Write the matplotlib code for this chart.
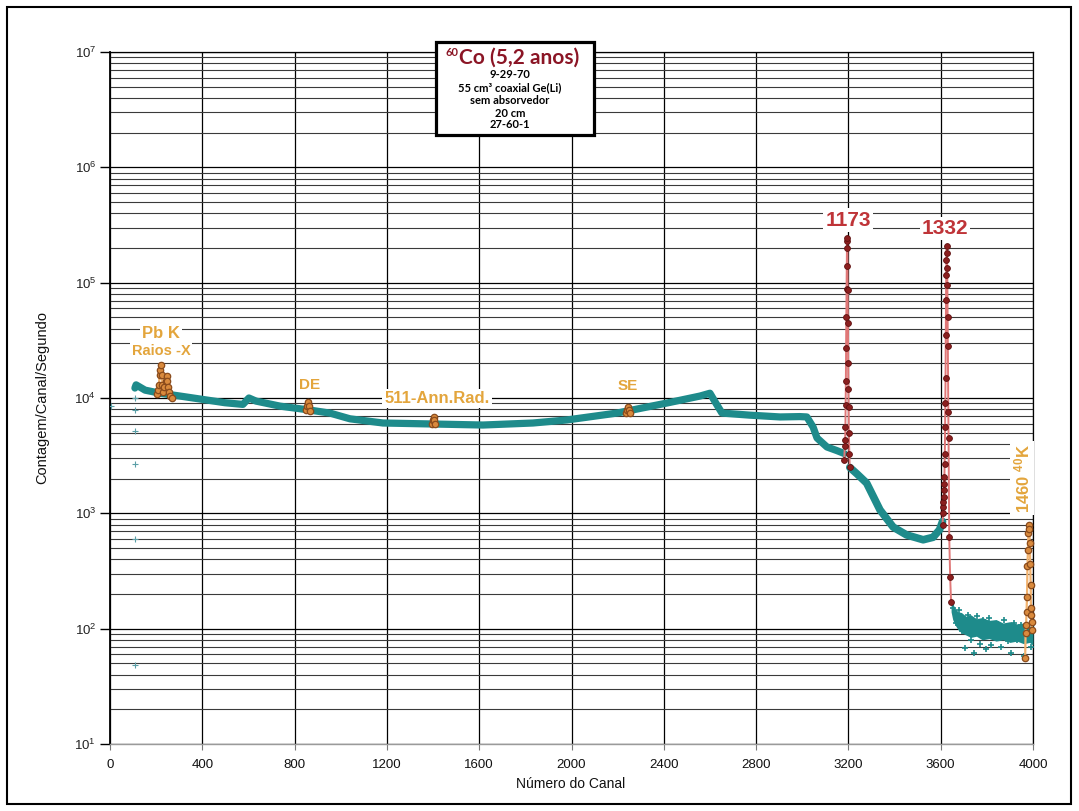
import matplotlib
matplotlib.use('Agg')
import matplotlib.pyplot as plt
from matplotlib.patches import Rectangle
from matplotlib.ticker import LogLocator, NullFormatter

plt.rcParams['font.family'] = ['Liberation Sans', 'DejaVu Sans']
plt.rcParams['mathtext.default'] = 'regular'

# ---------------- data ----------------
x_ticks = [0, 400, 800, 1200, 1600, 2000, 2400, 2800, 3200, 3600, 4000]
y_ticks = [1e1, 1e2, 1e3, 1e4, 1e5, 1e6, 1e7]
y_tick_labels = ['$10^{1}$', '$10^{2}$', '$10^{3}$', '$10^{4}$', '$10^{5}$', '$10^{6}$', '$10^{7}$']

# continuum (green) part 1: up to the 1173 peak
cont1_ch = [108, 113, 152, 217, 303, 390, 498, 576, 602, 633, 737, 858, 953, 1040,
            1183, 1400, 1616, 1833, 1980, 2197, 2414, 2557, 2600, 2626, 2652, 2773,
            2904, 2990, 3020, 3047, 3064, 3107, 3150, 3182]
cont1_val = [1.22e4, 1.30e4, 1.17e4, 1.10e4, 1.04e4, 9.8e3, 9.1e3, 8.8e3, 1.0e4, 9.4e3,
             8.5e3, 7.9e3, 7.4e3, 6.6e3, 6.07e3, 5.95e3, 5.83e3, 6.07e3, 6.45e3, 7.4e3,
             9.05e3, 1.04e4, 1.10e4, 9.0e3, 7.4e3, 7.1e3, 6.85e3, 6.9e3, 6.85e3, 5.6e3,
             4.5e3, 3.76e3, 3.5e3, 3.3e3]

# continuum part 2: between the two peaks
cont2_ch = [3206, 3237, 3279, 3337, 3394, 3452, 3524, 3567, 3595, 3608]
cont2_val = [2.5e3, 2.2e3, 1.83e3, 1.07e3, 760, 650, 590, 620, 720, 850]

# continuum part 3: noisy tail after 1332
tail_ch = [3645, 3652, 3662, 3675, 3690, 3710, 3730, 3755, 3780, 3810, 3840, 3870,
           3900, 3930, 3960, 3985, 4000]
tail_hi = [175, 165, 150, 140, 138, 128, 132, 122, 125, 118, 120, 112, 115, 110, 112, 105, 108]
tail_lo = [140, 120, 108, 98, 92, 88, 84, 86, 80, 82, 78, 80, 76, 78, 74, 76, 72]
tail_pts_ch = [3655, 3668, 3680, 3692, 3705, 3718, 3731, 3745, 3758, 3770, 3782, 3795,
               3808, 3820, 3834, 3848, 3862, 3876, 3890, 3905, 3918, 3932, 3946, 3960, 3975, 3990]
tail_pts_val = [150, 112, 145, 96, 68, 132, 80, 61, 128, 74, 118, 66, 124, 72, 84, 110,
                70, 118, 78, 62, 112, 80, 108, 58, 100, 70]

# isolated low channels
start_ch = [5, 108, 108, 108, 108, 108, 108]
start_val = [8.5e3, 1.0e4, 7.9e3, 5.2e3, 2.7e3, 6.0e2, 48]

# 1173 keV peak
p1173_ch = [3182, 3184, 3186, 3187, 3188, 3189, 3190, 3191, 3192, 3193, 3194, 3195,
            3196, 3197, 3198, 3199, 3200, 3201, 3202, 3204, 3206]
p1173_val = [2.9e3, 3.8e3, 4.3e3, 5.6e3, 8.7e3, 1.4e4, 2.7e4, 5.0e4, 8.9e4, 1.4e5,
             2.3e5, 2.45e5, 2.0e5, 8.6e4, 4.5e4, 2.0e4, 1.2e4, 8.3e3, 5.0e3, 3.3e3, 2.5e3]

# 1332 keV peak
p1332_ch = [3608, 3610, 3611, 3612, 3613, 3614, 3615, 3616, 3617, 3618, 3619, 3620,
            3621, 3622, 3623, 3624, 3625, 3626, 3627, 3628, 3629, 3630, 3631, 3633,
            3634, 3637, 3641, 3645]
p1332_val = [8.0e2, 1.0e3, 1.13e3, 1.26e3, 1.38e3, 1.6e3, 1.8e3, 2.06e3, 2.7e3, 3.3e3,
             5.6e3, 9.1e3, 1.5e4, 3.5e4, 7.1e4, 1.17e5, 1.58e5, 2.06e5, 1.8e5, 1.35e5,
             9.6e4, 5.0e4, 2.8e4, 7.6e3, 4.5e3, 6.2e2, 2.8e2, 1.7e2]

# small (orange) peaks
pbk_ch = [205, 209, 212, 215, 218, 221, 224, 227, 231, 236, 241, 245, 249, 253, 257, 262, 267]
pbk_val = [1.08e4, 1.17e4, 1.30e4, 1.58e4, 1.75e4, 1.93e4, 1.58e4, 1.30e4, 1.13e4,
           1.25e4, 1.40e4, 1.55e4, 1.40e4, 1.25e4, 1.13e4, 1.05e4, 1.0e4]
de_ch = [850, 854, 858, 862, 866]
de_val = [7.8e3, 8.6e3, 9.3e3, 8.5e3, 7.7e3]
ann_ch = [1394, 1398, 1402, 1406, 1410]
ann_val = [5.9e3, 6.4e3, 6.8e3, 6.4e3, 5.9e3]
se_ch = [2237, 2241, 2245, 2249, 2253]
se_val = [7.4e3, 7.9e3, 8.3e3, 7.9e3, 7.4e3]
k40_ch = [3966, 3968, 3970, 3972, 3974, 3976, 3978, 3980, 3982, 3984, 3986, 3988,
          3990, 3991, 3992, 3994, 3996]
k40_val = [56, 92, 108, 139, 188, 349, 481, 675, 793, 731, 553, 364, 239, 151, 131, 114, 97]

# ---------------- styles ----------------
TEAL = '#1e8b8b'
RED_LINE = '#e07878'
RED_MK = '#8b1f1f'
OR_LINE = '#f3b470'
OR_MK = '#d98a3d'
OR_EDGE = '#8a4b1c'
LABEL_OR = '#e3a53c'
LABEL_RED = '#bf3438'

W, H = 1079, 811
def fx(p):
    return p / W
def fy(p):
    return 1 - p / H

fig = plt.figure(figsize=(W / 100, H / 100), dpi=100)
ax = fig.add_axes([fx(110), fy(744), fx(1033) - fx(110), fy(52) - fy(744)])
ax.set_yscale('log')
ax.set_xlim(0, 4000)
ax.set_ylim(10, 1e7)

ax.set_xticks(x_ticks)
ax.set_xticklabels([str(v) for v in x_ticks])
ax.set_yticks(y_ticks)
ax.set_yticklabels(y_tick_labels)
ax.yaxis.set_minor_locator(LogLocator(base=10, subs=range(2, 10), numticks=30))
ax.yaxis.set_minor_formatter(NullFormatter())
ax.set_axisbelow(True)
ax.grid(which='major', axis='both', color='black', lw=0.9)
ax.grid(which='minor', axis='y', color='#3a3a3a', lw=0.8)

for s in ['top', 'right']:
    ax.spines[s].set_color('black')
    ax.spines[s].set_linewidth(0.9)
ax.spines['left'].set_linewidth(1.3)
ax.spines['bottom'].set_color('#9a9a9a')
ax.spines['bottom'].set_linewidth(1.0)

ax.tick_params(axis='y', which='minor', length=0)
ax.tick_params(axis='y', which='major', length=7, width=1, color='black',
               labelsize=9.5, pad=3, labelcolor='#222222')
ax.tick_params(axis='x', which='major', length=4, width=0.8, color='#777777',
               labelsize=9.5, pad=7, labelcolor='#111111')

# continuum
ax.plot(cont1_ch, cont1_val, color=TEAL, lw=5.2, solid_capstyle='round',
        solid_joinstyle='round', zorder=3)
ax.plot(cont2_ch, cont2_val, color=TEAL, lw=5.5, solid_capstyle='round',
        solid_joinstyle='round', zorder=3)
ax.fill_between(tail_ch, tail_lo, tail_hi, color=TEAL, lw=0, zorder=3)
ax.plot(tail_pts_ch, tail_pts_val, '+', color=TEAL, ms=5, mew=1.2, zorder=3)
ax.plot(start_ch, start_val, '+', color='#5a9ea6', ms=4, mew=0.8, zorder=3)

# big peaks
for ch, val in [(p1173_ch, p1173_val), (p1332_ch, p1332_val)]:
    ax.plot(ch, val, '-', color=RED_LINE, lw=1.4, zorder=4)
    ax.plot(ch, val, 'o', mfc=RED_MK, mec='#5e1010', ms=4.2, mew=0.6, zorder=5)

# small peaks
for ch, val in [(pbk_ch, pbk_val), (de_ch, de_val), (ann_ch, ann_val),
                (se_ch, se_val), (k40_ch, k40_val)]:
    ax.plot(ch, val, '-', color=OR_LINE, lw=1.6, zorder=4, clip_on=False)
    ax.plot(ch, val, 'o', mfc=OR_MK, mec=OR_EDGE, ms=4.6, mew=0.9, zorder=5, clip_on=False)

# ---------------- labels ----------------
wb = dict(facecolor='white', edgecolor='none', pad=1.5)
fig.text(fx(161), fy(333), 'Pb K', color=LABEL_OR, fontsize=12, fontweight='bold',
         ha='center', va='center', bbox=wb, zorder=6)
fig.text(fx(161), fy(351), 'Raios -X', color=LABEL_OR, fontsize=10.5, fontweight='bold',
         ha='center', va='center', bbox=wb, zorder=6)
fig.text(fx(310), fy(385), 'DE', color=LABEL_OR, fontsize=11, fontweight='bold',
         ha='center', va='center', bbox=wb, zorder=6)
fig.text(fx(437), fy(398.5), '511-Ann.Rad.', color=LABEL_OR, fontsize=12, fontweight='bold',
         ha='center', va='center', bbox=wb, zorder=6)
fig.text(fx(628), fy(386), 'SE', color=LABEL_OR, fontsize=11, fontweight='bold',
         ha='center', va='center', bbox=wb, zorder=6)
fig.text(fx(1022), fy(478), '1460 $^{40}$K', color=LABEL_OR, fontsize=12, fontweight='bold',
         ha='center', va='center', rotation=90, bbox=wb, zorder=6)
fig.text(fx(848), fy(220), '1173', color=LABEL_RED, fontsize=15, fontweight='bold',
         ha='center', va='center', bbox=wb, zorder=6)
fig.text(fx(945), fy(228.5), '1332', color=LABEL_RED, fontsize=15, fontweight='bold',
         ha='center', va='center', bbox=wb, zorder=6)

# axis titles
fig.text(fx(571), fy(784), 'Número do Canal', fontsize=10, ha='center', va='center',
         color='#111111')
fig.text(fx(42), fy(398), 'Contagem/Canal/Segundo', fontsize=10.5, ha='center',
         va='center', rotation=90, color='#111111')

# title box
fig.add_artist(Rectangle((fx(436), fy(135)), fx(594) - fx(436), fy(42) - fy(135),
                         transform=fig.transFigure, facecolor='white', edgecolor='black',
                         lw=2.3, zorder=10))
TFONT = ['Lato', 'DejaVu Sans']
fig.text(fx(452), fy(52), '60', color='#8b1525', fontsize=8, fontweight='bold',
         family=TFONT, ha='center', va='center', zorder=11)
fig.text(fx(459), fy(64), 'Co (5,2 anos)', color='#8b1525', fontsize=15,
         fontweight='bold', family=TFONT, ha='left', va='baseline', zorder=11)
sub_lines = ['9-29-70', '55 cm³ coaxial Ge(Li)', 'sem absorvedor', '20 cm', '27-60-1']
sub_y = [74, 87.5, 101, 113.5, 124.5]
for t, yy in zip(sub_lines, sub_y):
    fig.text(fx(510), fy(yy), t, color='black', fontsize=8, fontweight='bold',
             family=TFONT, ha='center', va='center', zorder=11)

# outer frame
fig.add_artist(Rectangle((fx(7), fy(804)), fx(1071) - fx(7), fy(7) - fy(804),
                         transform=fig.transFigure, fill=False, edgecolor='black',
                         lw=1.5, zorder=12))

fig.savefig('out.png', dpi=100)
